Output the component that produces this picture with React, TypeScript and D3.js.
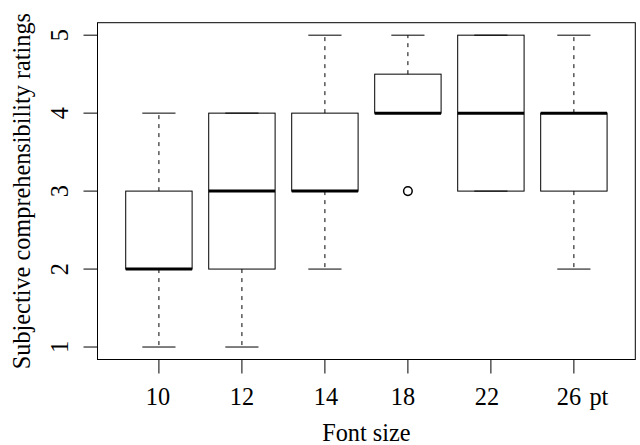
import React from "react";
import * as d3 from "d3";

const categories = ["10", "12", "14", "18", "22", "26"];
const lowerWhisker = [1, 1, 2, 4, 3, 2];
const q1 = [2, 2, 3, 4, 3, 3];
const median = [2, 3, 3, 4, 4, 4];
const q3 = [3, 4, 4, 4.5, 5, 4];
const upperWhisker = [4, 4, 5, 5, 5, 5];
const outliers = [[], [], [], [3], [], []] as number[][];
const yTicks = [1, 2, 3, 4, 5];
const xLabelNudge = [-1, 0, 1, -5, -4, -5];
const unitLabel = "pt";

const W = 640;
const H = 445;
const L = 97.5, R = 635.3, T = 22.7, B = 359.5;
const FONT = "'Liberation Serif', 'Times New Roman', serif";
const FS = 24.3;

export default function App() {
  const x = d3.scaleLinear().domain([0.26, categories.length + 0.74]).range([L, R]);
  const y = d3.scaleLinear().domain([0.84, 5.16]).range([B, T]);
  const bw = 0.4; // half box width (0.8 total)
  const sw = 0.2; // half staple width
  return (
    <svg width={W} height={H} style={{ position: "absolute", left: 0, top: 0, background: "#fff" }}>
      <rect x={0} y={0} width={W} height={H} fill="#fff" />
      {categories.map((c, i) => {
        const cx = x(i + 1);
        return (
          <g key={c} stroke="#000" fill="none">
            <line x1={cx} x2={cx} y1={y(q3[i])} y2={y(upperWhisker[i])} strokeDasharray="4,5" strokeWidth={1} />
            <line x1={cx} x2={cx} y1={y(q1[i])} y2={y(lowerWhisker[i])} strokeDasharray="4,5" strokeWidth={1} />
            <line x1={x(i + 1 - sw)} x2={x(i + 1 + sw)} y1={y(upperWhisker[i])} y2={y(upperWhisker[i])} strokeWidth={1} />
            <line x1={x(i + 1 - sw)} x2={x(i + 1 + sw)} y1={y(lowerWhisker[i])} y2={y(lowerWhisker[i])} strokeWidth={1} />
            <rect
              x={x(i + 1 - bw)}
              y={y(q3[i])}
              width={x(i + 1 + bw) - x(i + 1 - bw)}
              height={y(q1[i]) - y(q3[i])}
              strokeWidth={1}
            />
            <line x1={x(i + 1 - bw)} x2={x(i + 1 + bw)} y1={y(median[i])} y2={y(median[i])} strokeWidth={3} />
            {outliers[i].map((o, j) => (
              <circle key={j} cx={cx} cy={y(o)} r={4.3} strokeWidth={1.5} />
            ))}
          </g>
        );
      })}
      <rect x={L} y={T} width={R - L} height={B - T} fill="none" stroke="#000" strokeWidth={1} />
      {yTicks.map((t) => (
        <g key={t}>
          <line x1={L} x2={L - 14} y1={y(t)} y2={y(t)} stroke="#000" strokeWidth={1} />
          <text
            transform={`translate(68,${y(t)}) rotate(-90)`}
            textAnchor="middle"
            fontFamily={FONT}
            fontSize={FS}
          >
            {t}
          </text>
        </g>
      ))}
      {categories.map((c, i) => (
        <g key={c}>
          <line x1={x(i + 1)} x2={x(i + 1)} y1={B} y2={B + 14} stroke="#000" strokeWidth={1} />
          <text x={x(i + 1) + xLabelNudge[i]} y={405} textAnchor="middle" fontFamily={FONT} fontSize={FS}>
            {c}
          </text>
          {i === categories.length - 1 && (
            <text x={x(i + 1) + xLabelNudge[i] + 20.5} y={405} textAnchor="start" fontFamily={FONT} fontSize={FS}>
              {unitLabel}
            </text>
          )}
        </g>
      ))}
      <text x={(L + R) / 2} y={441} textAnchor="middle" fontFamily={FONT} fontSize={FS}>
        Font size
      </text>
      <text
        transform={`translate(30,${(T + B) / 2}) rotate(-90)`}
        textAnchor="middle"
        fontFamily={FONT}
        fontSize={FS}
      >
        Subjective comprehensibility ratings
      </text>
    </svg>
  );
}
